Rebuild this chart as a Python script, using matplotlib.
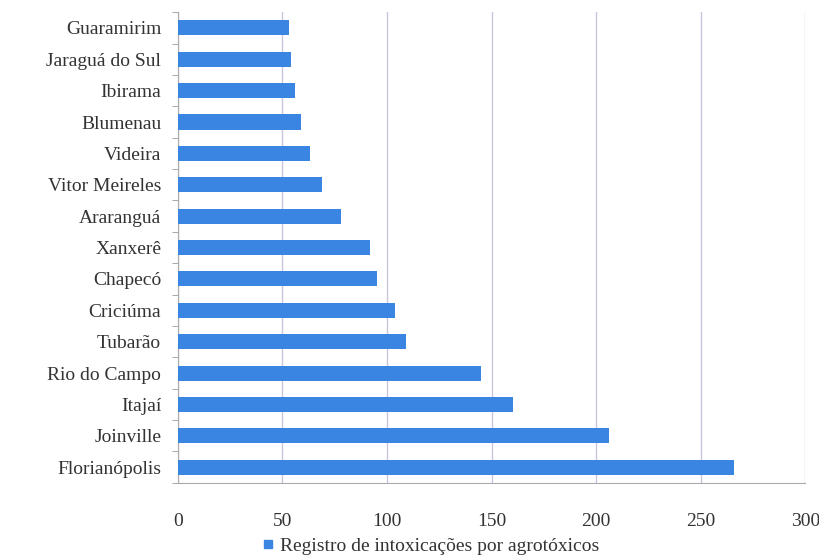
import matplotlib.pyplot as plt
from matplotlib.lines import Line2D

# --- data ---
cities = ["Florianópolis", "Joinville", "Itajaí", "Rio do Campo", "Tubarão",
          "Criciúma", "Chapecó", "Xanxerê", "Araranguá", "Vitor Meireles",
          "Videira", "Blumenau", "Ibirama", "Jaraguá do Sul", "Guaramirim"]
registros = [266, 206, 160, 145, 109, 104, 95, 92, 78, 69, 63, 59, 56, 54, 53]
xticks = [0, 50, 100, 150, 200, 250, 300]
legend_label = "Registro de intoxicações por agrotóxicos"

plt.rcParams['font.family'] = ['Liberation Serif', 'DejaVu Serif']

bar_color = '#3a84e2'
text_color = '#333333'

fig = plt.figure(figsize=(8.2, 5.55), dpi=100)
ax = fig.add_axes([0.217, 0.130, 0.765, 0.848])

ypos = range(len(cities))
ax.barh(ypos, registros, height=0.48, color=bar_color, zorder=3)

ax.set_xlim(0, 300)
ax.set_ylim(-0.5, len(cities) - 0.5)

# vertical gridlines
ax.set_xticks(xticks)
ax.xaxis.grid(True, color='#c9c6dc', linewidth=1.0, zorder=0)
ax.set_xticklabels([str(v) for v in xticks], fontsize=14, color=text_color)
ax.tick_params(axis='x', length=0, pad=22)

# category labels, ticks at category boundaries
ax.set_yticks(list(ypos))
ax.set_yticklabels(cities, fontsize=14, color=text_color)
ax.tick_params(axis='y', length=0, pad=12)
ax.set_yticks([i - 0.5 for i in range(len(cities) + 1)], minor=True)
ax.tick_params(axis='y', which='minor', length=4, color='#999999', direction='out')

for side in ['top', 'right']:
    ax.spines[side].set_visible(False)
ax.spines['left'].set_color('#aaaaaa')
ax.spines['bottom'].set_color('#aaaaaa')

handle = Line2D([], [], marker='s', linestyle='none', color=bar_color, markersize=6)
fig.legend([handle], [legend_label], loc='center', bbox_to_anchor=(0.524, 0.016),
           frameon=False, fontsize=14, handletextpad=0.2, labelcolor=text_color,
           handlelength=0.8)

fig.savefig('out.png', dpi=100, facecolor='white')
